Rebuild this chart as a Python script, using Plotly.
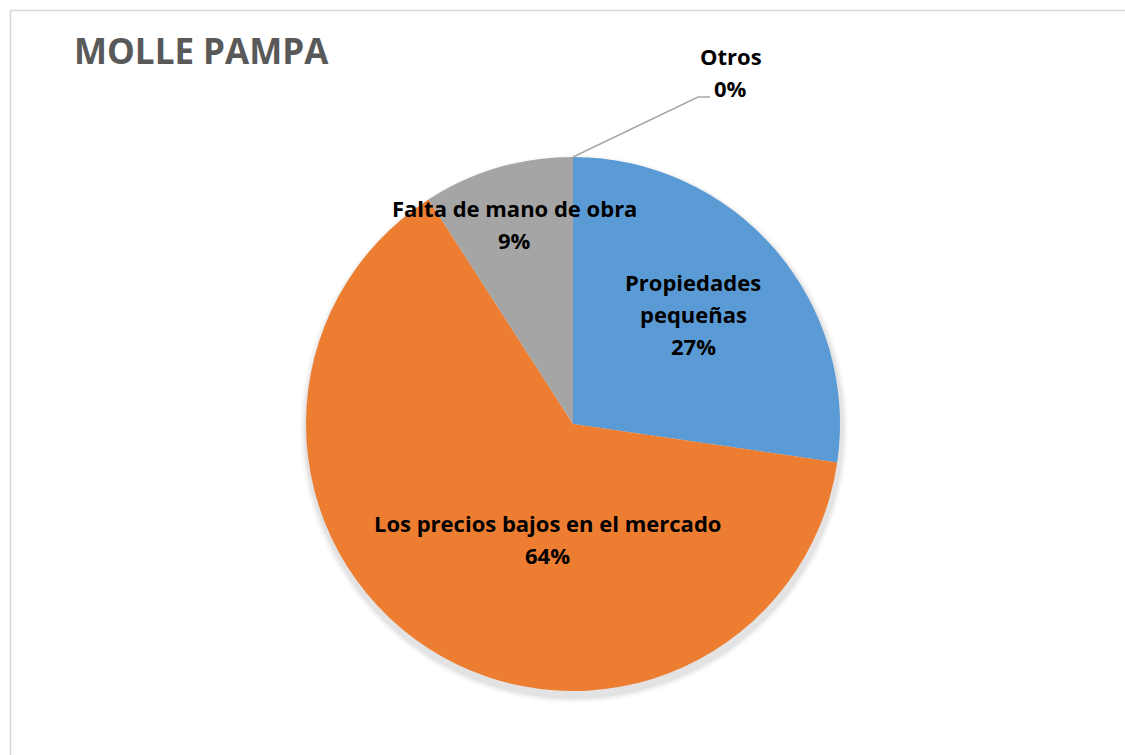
import math
import plotly.graph_objects as go

# ---------------- data ----------------
categories = ["Propiedades pequeñas", "Los precios bajos en el mercado",
              "Falta de mano de obra", "Otros"]
values = [27.3, 63.6, 9.1, 0.0]
pct_labels = ["27%", "64%", "9%", "0%"]
label_lines = [["Propiedades", "pequeñas"], ["Los precios bajos en el mercado"],
               ["Falta de mano de obra"], ["Otros"]]
colors = ["#5B9BD5", "#ED7D31", "#A5A5A5", "#FFC000"]
title_text = "MOLLE PAMPA"

# ---------------- layout geometry ----------------
W, H = 1125, 755
CX, CY, R = 573, 424, 267
FONT = "Open Sans"
LABEL_SIZE = 22
LINE_GAP = 32


def px2paper(x, y):
    return x / W, 1 - y / H


fig = go.Figure()
fig.add_trace(go.Pie(
    labels=categories,
    values=values,
    sort=False,
    direction="clockwise",
    rotation=0,
    marker=dict(colors=colors, line=dict(width=0)),
    textinfo="none",
    hoverinfo="label+percent",
    showlegend=False,
    domain=dict(x=[(CX - R) / W, (CX + R) / W],
                y=[1 - (CY + R) / H, 1 - (CY - R) / H]),
))

annotations = []
shapes = []


def add_block(lines, cx, cy):
    n = len(lines)
    for k, line in enumerate(lines):
        yy = cy + (k - (n - 1) / 2) * LINE_GAP
        xp, yp = px2paper(cx, yy)
        annotations.append(dict(
            x=xp, y=yp, xref="paper", yref="paper", text=line, showarrow=False,
            xanchor="center", yanchor="middle",
            font=dict(family=FONT, size=LABEL_SIZE, color="#000000", weight="bold"),
        ))


# label placement (style): radial fraction and angular adjustment per slice
rfrac = [0.61, 0.44, 0.78, None]
ang_adj = [-1.5, -20.0, 0.0, 0.0]

total = sum(values)
cum = 0.0
for i, v in enumerate(values):
    start = cum / total * 360
    cum += v
    end = cum / total * 360
    mid = (start + end) / 2
    lines = label_lines[i] + [pct_labels[i]]
    if rfrac[i] is not None:
        a = math.radians(mid + ang_adj[i])
        lx = CX + rfrac[i] * R * math.sin(a)
        ly = CY - rfrac[i] * R * math.cos(a)
        add_block(lines, lx, ly)
    else:
        # outside label with leader line
        a = math.radians(mid)
        ex = CX + R * math.sin(a)
        ey = CY - R * math.cos(a)
        bx, by = ex + 125, ey - 60
        fx, fy = bx + 12, by
        p0 = px2paper(ex, ey)
        p1 = px2paper(bx, by)
        p2 = px2paper(fx, fy)
        shapes.append(dict(
            type="path", xref="paper", yref="paper",
            path=f"M {p0[0]},{p0[1]} L {p1[0]},{p1[1]} L {p2[0]},{p2[1]}",
            line=dict(color="#A6A6A6", width=1.5),
        ))
        add_block(lines, fx + 21, fy - 25)

# soft shadow under the pie
for k, alpha in [(7, 0.025), (5, 0.035), (3, 0.05)]:
    c0 = px2paper(CX - R - k + 1, CY - R - k + 5)
    c1 = px2paper(CX + R + k + 1, CY + R + k + 5)
    shapes.append(dict(
        type="circle", xref="paper", yref="paper", layer="below",
        x0=c0[0], x1=c1[0], y0=c1[1], y1=c0[1],
        fillcolor=f"rgba(0,0,0,{alpha})", line=dict(width=0),
    ))

# chart border
b0 = px2paper(10.5, 10.5)
shapes.append(dict(
    type="rect", xref="paper", yref="paper", layer="below",
    x0=b0[0], y0=-0.02, x1=1.02, y1=b0[1],
    line=dict(color="#D9D9D9", width=1.5), fillcolor="rgba(0,0,0,0)",
))

# title
tp = px2paper(72, 50)
annotations.append(dict(
    x=tp[0], y=tp[1], xref="paper", yref="paper", text=title_text,
    showarrow=False, xanchor="left", yanchor="middle",
    font=dict(family=FONT, size=35, color="#595959", weight="bold"),
))

fig.update_layout(
    width=W, height=H,
    margin=dict(l=0, r=0, t=0, b=0),
    paper_bgcolor="white",
    plot_bgcolor="white",
    annotations=annotations,
    shapes=shapes,
)

fig.write_html(
    "out.html",
    config={"displayModeBar": False},
    post_script="document.body.style.margin='0';document.body.style.overflow='hidden';",
)
